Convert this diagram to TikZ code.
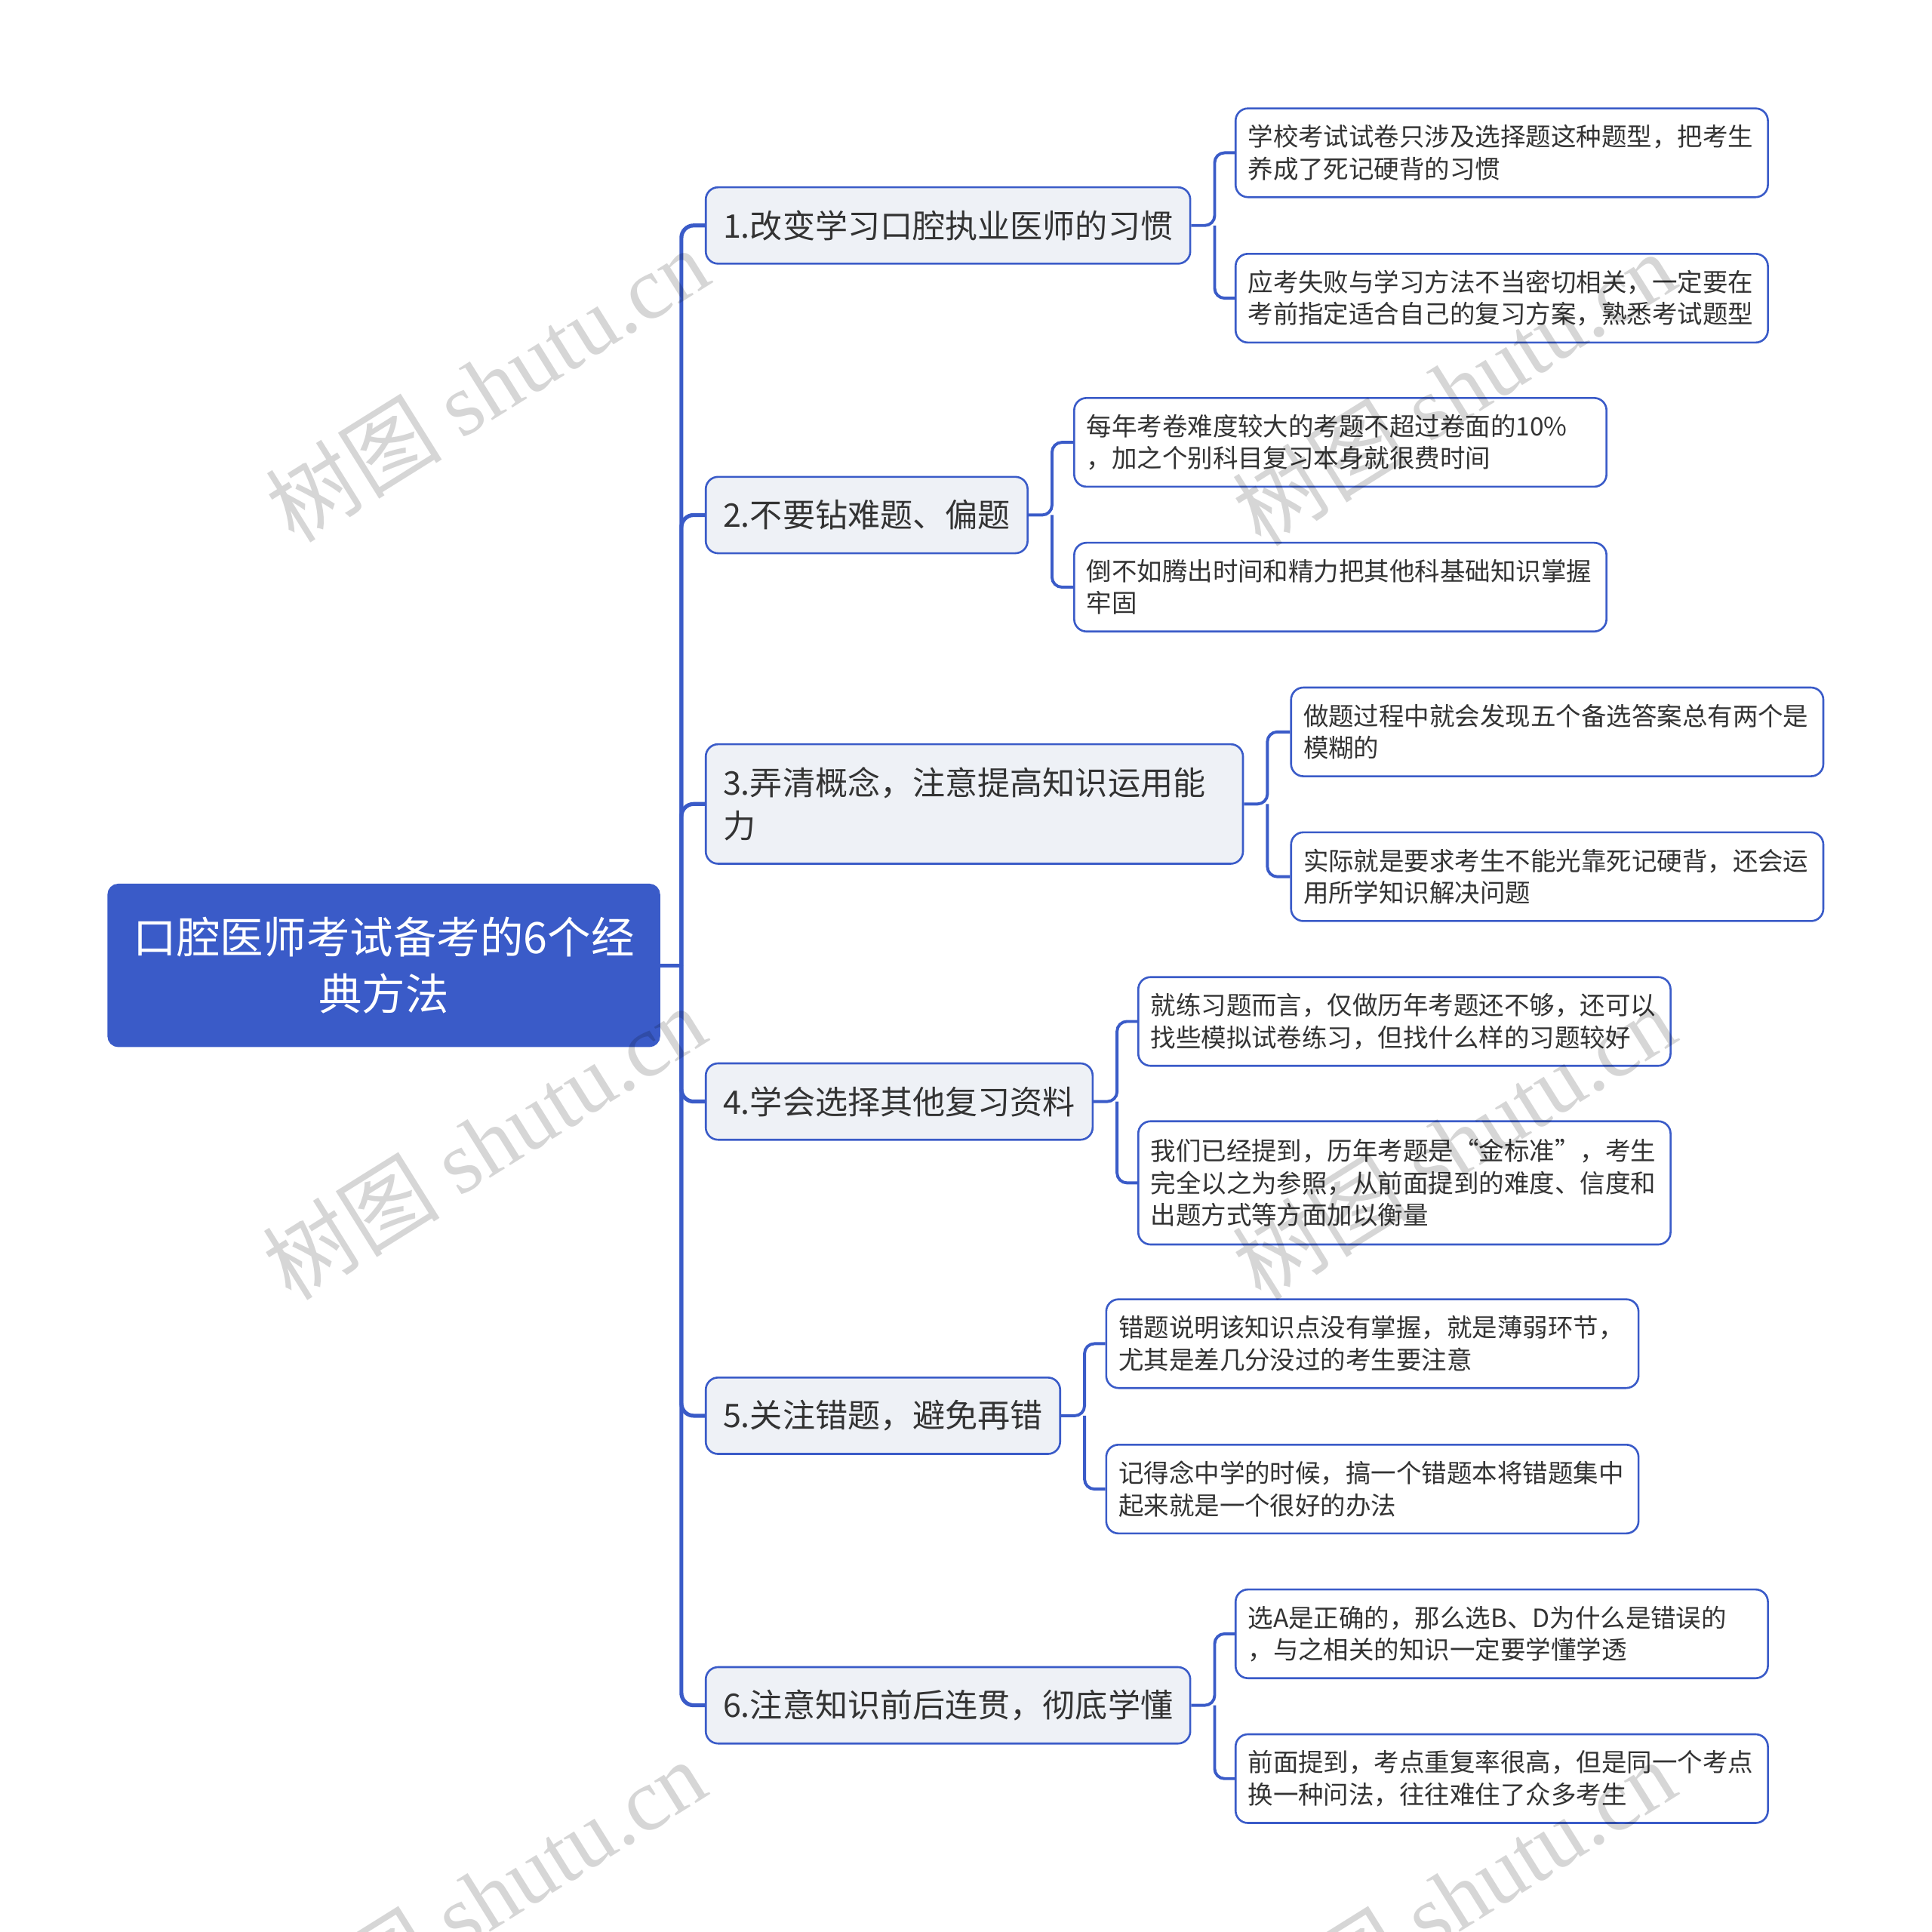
\documentclass[tikz,border=0pt]{standalone}
\usepackage{fontspec}
\setmainfont{Noto Sans CJK SC}
\newfontfamily\wmfont{Liberation Serif}
\usetikzlibrary{positioning,calc}

\definecolor{mapblue}{HTML}{3A5BC8}
\definecolor{topicfill}{HTML}{EEF1F6}
\definecolor{inktext}{HTML}{333333}

\begin{document}
\begin{tikzpicture}[x=0.5pt, y=-0.5pt,
  rootbox/.style={draw=mapblue, fill=mapblue, text=white, rounded corners=4pt, line width=0.8pt,
    font=\fontsize{17.6}{23}\selectfont, align=center, minimum width=223.5pt, minimum height=65.5pt, inner sep=0pt},
  topicbox/.style={draw=mapblue, fill=topicfill, text=inktext, rounded corners=5pt, line width=0.8pt,
    font=\fontsize{13.2}{17.5}\selectfont, anchor=west, inner xsep=7pt, inner ysep=2pt, minimum height=31pt},
  leafbox/.style={draw=mapblue, fill=white, text=inktext, rounded corners=5pt, line width=0.8pt,
    font=\fontsize{10.25}{13}\selectfont, anchor=west, text width=206pt, align=left,
    inner xsep=5pt, inner ysep=2pt, minimum height=36pt},
  trunk/.style={draw=mapblue, line width=1.6pt, rounded corners=5pt},
  twig/.style={draw=mapblue, line width=1.2pt, rounded corners=4pt},
  wmark/.style={text=black, text opacity=0.16, rotate=32, font=\fontsize{36}{36}\selectfont}]
  \useasboundingbox (0,0) rectangle (1568,1568);
  \clip (0,0) rectangle (1568,1568);

  % Root
  \node[rootbox] (root) at (311.5,783.5) {口腔医师考试备考的6个经\\典方法};

  % Main branches
  \node[topicbox] (n1) at (572,183) {1.改变学习口腔执业医师的习惯};
  \node[topicbox] (n2) at (572,418) {2.不要钻难题、偏题};
  \node[topicbox, text width=204pt, align=left, minimum height=48.5pt] (n3) at (572,652.5) {3.弄清概念，注意提高知识运用能\\力};
  \node[topicbox] (n4) at (572,894) {4.学会选择其他复习资料};
  \node[topicbox] (n5) at (572,1149) {5.关注错题，避免再错};
  \node[topicbox] (n6) at (572,1384) {6.注意知识前后连贯，彻底学懂};

  % Leaves
  \node[leafbox] (l1a) at (1002,124) {学校考试试卷只涉及选择题这种题型，把考生\\养成了死记硬背的习惯};
  \node[leafbox] (l1b) at (1002,242) {应考失败与学习方法不当密切相关，一定要在\\考前指定适合自己的复习方案，熟悉考试题型};
  \node[leafbox] (l2a) at (871,359) {每年考卷难度较大的考题不超过卷面的10\%\\，加之个别科目复习本身就很费时间};
  \node[leafbox] (l2b) at (871,476.5) {倒不如腾出时间和精力把其他科基础知识掌握\\牢固};
  \node[leafbox] (l3a) at (1047,594) {做题过程中就会发现五个备选答案总有两个是\\模糊的};
  \node[leafbox] (l3b) at (1047,711.5) {实际就是要求考生不能光靠死记硬背，还会运\\用所学知识解决问题};
  \node[leafbox] (l4a) at (923,829) {就练习题而言，仅做历年考题还不够，还可以\\找些模拟试卷练习，但找什么样的习题较好};
  \node[leafbox, minimum height=50pt] (l4b) at (923,960) {我们已经提到，历年考题是“金标准”，考生\\完全以之为参照，从前面提到的难度、信度和\\出题方式等方面加以衡量};
  \node[leafbox] (l5a) at (897,1090.5) {错题说明该知识点没有掌握，就是薄弱环节，\\尤其是差几分没过的考生要注意};
  \node[leafbox] (l5b) at (897,1208.5) {记得念中学的时候，搞一个错题本将错题集中\\起来就是一个很好的办法};
  \node[leafbox] (l6a) at (1002,1326) {选A是正确的，那么选B、D为什么是错误的\\，与之相关的知识一定要学懂学透};
  \node[leafbox] (l6b) at (1002,1443.5) {前面提到，考点重复率很高，但是同一个考点\\换一种问法，往往难住了众多考生};

  % Connectors
  \coordinate (hub) at (553,783.5);
  \draw[trunk] (root.east) -- (hub);
  \foreach \t in {n1,n2,n3,n4,n5,n6}
    \draw[trunk] (hub) |- (\t.west);
  \foreach \t/\a/\b in {n1/l1a/l1b, n2/l2a/l2b, n3/l3a/l3b, n4/l4a/l4b, n5/l5a/l5b, n6/l6a/l6b} {
    \draw[twig] (\t.east) -- ++(19,0) coordinate (knot) |- (\a.west);
    \draw[twig] (knot) |- (\b.west);
  }

  % Watermarks
  \foreach \wx/\wy [count=\i] in {395/312, 393/927, 393/1539, 1180/315, 1180/927, 1180/1539}
    \node[wmark] (wm\i) at (\wx,\wy) {树图 {\wmfont shutu.cn}};
\end{tikzpicture}
\end{document}
